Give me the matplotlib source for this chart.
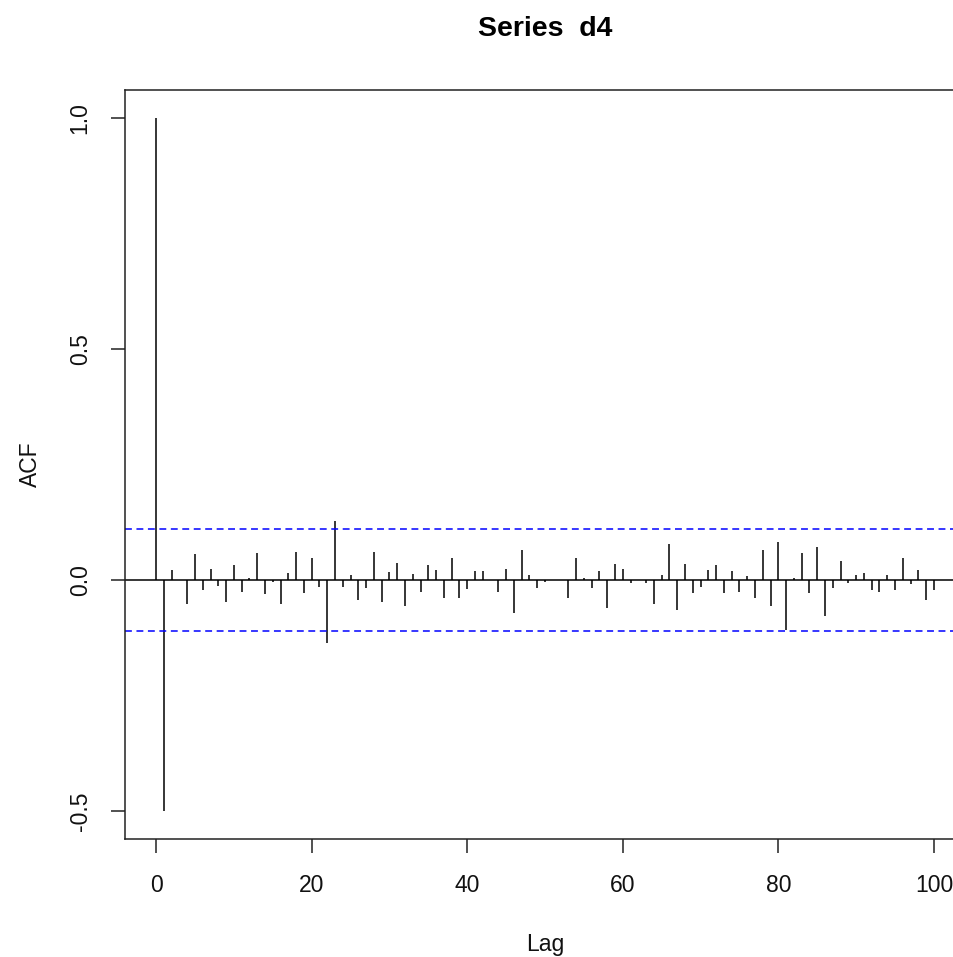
import numpy as np
import matplotlib.pyplot as plt

plt.rcParams['font.family'] = ['Liberation Sans', 'DejaVu Sans']

# sample autocorrelations of d4, lags 0..100
lags = list(range(101))
acf = [
    1.000, -0.500, 0.022, 0.001, -0.051, 0.056, -0.022, 0.025, -0.012, -0.048,
    0.032, -0.025, 0.005, 0.058, -0.031, -0.004, -0.051, 0.015, 0.061, -0.028,
    0.048, -0.014, -0.137, 0.128, -0.014, 0.012, -0.042, -0.018, 0.061, -0.048,
    0.018, 0.038, -0.055, 0.014, -0.025, 0.032, 0.022, -0.038, 0.048, -0.038,
    -0.019, 0.019, 0.019, 0.001, -0.025, 0.025, -0.071, 0.064, 0.012, -0.018,
    -0.005, 0.001, 0.000, -0.038, 0.048, 0.005, -0.018, 0.019, -0.061, 0.035,
    0.025, -0.006, 0.000, -0.006, -0.051, 0.012, 0.079, -0.064, 0.035, -0.028,
    -0.014, 0.022, 0.032, -0.028, 0.019, -0.025, 0.009, -0.038, 0.064, -0.055,
    0.082, -0.107, 0.005, 0.058, -0.028, 0.072, -0.078, -0.018, 0.041, -0.006,
    0.012, 0.015, -0.022, -0.025, 0.012, -0.022, 0.048, -0.008, 0.022, -0.044,
    -0.022,
]
n_obs = 320
ci = 1.959964 / np.sqrt(n_obs)

xticks = [0, 20, 40, 60, 80, 100]
yticks = [-0.5, 0.0, 0.5, 1.0]
yticklabels = ['-0.5', '0.0', '0.5', '1.0']

W, H = 954, 957
fig = plt.figure(figsize=(W / 100, H / 100), dpi=100)
ax = fig.add_axes([125 / W, (H - 839) / H, 840 / W, 749 / H])

ax.vlines(lags, 0, acf, color='black', linewidth=1.1)
ax.axhline(0, color='black', linewidth=1.1)
for c in (ci, -ci):
    ax.axhline(c, color='#0000FF', linewidth=1.1, linestyle=(0, (4.5, 3)))

ax.set_xlim(-4, 104)
ax.set_ylim(-0.56, 1.06)
ax.set_xticks(xticks)
ax.set_yticks(yticks)
ax.set_yticklabels(yticklabels, rotation=90, va='center')

for s in ax.spines.values():
    s.set_linewidth(1.1)
    s.set_color('#222222')
ax.tick_params(axis='both', length=10, width=1.1, color='#222222',
               labelsize=16.5, labelcolor='#111111')
ax.tick_params(axis='x', pad=15)
ax.tick_params(axis='y', pad=14)

ax.set_xlabel('Lag', fontsize=16.5, color='#111111', labelpad=26)
ax.set_ylabel('ACF', fontsize=16.5, color='#111111', labelpad=19)
ax.set_title('Series  d4', fontsize=20.5, fontweight='bold', pad=39)

fig.savefig('out.png', dpi=100)
